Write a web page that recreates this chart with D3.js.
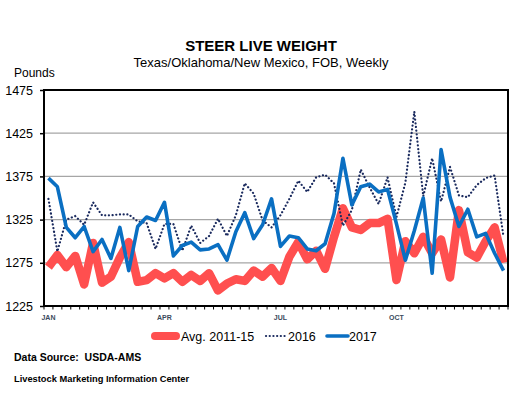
<!DOCTYPE html>
<html>
<head>
<meta charset="utf-8">
<script src="https://cdn.jsdelivr.net/npm/d3@7"></script>
<style>
  body { margin: 0; background: #fff; }
  svg { display: block; font-family: 'Liberation Sans', Arial, sans-serif; }
</style>
</head>
<body>
<div id="chart"></div>
<script>
// weekly values
const weeks = d3.range(52);
const avg1115 = [1270, 1284, 1270, 1283, 1250, 1298, 1252, 1259, 1281, 1299, 1253, 1255, 1263,
  1257, 1263, 1253, 1261, 1254, 1263, 1243, 1251, 1256, 1254, 1266, 1259, 1269,
  1254, 1282, 1299, 1279, 1289, 1268, 1305, 1338, 1316, 1313, 1321, 1321, 1326,
  1255, 1300, 1286, 1305, 1286, 1302, 1258, 1336, 1287, 1281, 1300, 1316, 1275];
const y2016 = [1349, 1288, 1325, 1329, 1319, 1345, 1330, 1330, 1331, 1331, 1323, 1321, 1291,
  1320, 1320, 1289, 1318, 1298, 1306, 1326, 1306, 1330, 1367, 1355, 1324, 1316,
  1330, 1349, 1370, 1357, 1374, 1377, 1367, 1318, 1336, 1383, 1362, 1343, 1374,
  1328, 1368, 1450, 1352, 1396, 1346, 1386, 1353, 1351, 1365, 1373, 1376, 1305];
const y2017 = [1373, 1363, 1316, 1304, 1317, 1288, 1302, 1280, 1316, 1266, 1317, 1328, 1324,
  1345, 1283, 1295, 1299, 1290, 1291, 1296, 1278, 1311, 1333, 1303, 1319, 1349,
  1294, 1306, 1304, 1291, 1289, 1297, 1332, 1396, 1342, 1363, 1366, 1357, 1360,
  1320, 1278, 1312, 1350, 1263, 1406, 1351, 1317, 1337, 1305, 1309, 1286, 1266];
const yTicks = [1225, 1275, 1325, 1375, 1425, 1475];
const monthLabels = ['JAN', 'APR', 'JUL', 'OCT'];
const monthWeeks = [0, 13, 26, 39];

const width = 531, height = 397;
const margin = { top: 90, right: 23, bottom: 91, left: 44 };

const svg = d3.select('#chart').append('svg').attr('width', width).attr('height', height);

const x = d3.scaleBand().domain(weeks).range([margin.left, width - margin.right]);
const y = d3.scaleLinear().domain([1225, 1475]).range([height - margin.bottom, margin.top]);
const cx = i => x(i) + x.bandwidth() / 2;

// titles
svg.append('text').attr('x', 261).attr('y', 51).attr('text-anchor', 'middle')
  .attr('font-size', 15).attr('font-weight', 'bold').text('STEER LIVE WEIGHT');
svg.append('text').attr('x', 261).attr('y', 67).attr('text-anchor', 'middle')
  .attr('font-size', 13).text('Texas/Oklahoma/New Mexico, FOB, Weekly');
svg.append('text').attr('x', 14).attr('y', 77).attr('font-size', 12).text('Pounds');

// grid lines
svg.append('g').selectAll('line').data(yTicks.slice(1, -1)).join('line')
  .attr('x1', margin.left).attr('x2', width - margin.right)
  .attr('y1', d => y(d)).attr('y2', d => y(d))
  .attr('stroke', '#a6a6a6').attr('stroke-width', 1.3);

// y axis
const yAxis = svg.append('g').attr('transform', `translate(${margin.left},0)`)
  .call(d3.axisLeft(y).tickValues(yTicks).tickSize(4).tickPadding(7).tickFormat(d3.format('d')));
yAxis.select('.domain').remove();
yAxis.selectAll('text').attr('font-size', 12.5).attr('fill', '#000').style('font-family', "'Liberation Sans', Arial, sans-serif");
yAxis.selectAll('line').attr('stroke', '#000').attr('stroke-width', 1.5);

// x axis: tick marks between weeks
const xEdges = weeks.map(i => x(i)).concat([width - margin.right]);
svg.append('g').selectAll('line').data(xEdges).join('line')
  .attr('x1', d => d).attr('x2', d => d)
  .attr('y1', y(1225)).attr('y2', y(1225) + 3.5)
  .attr('stroke', '#000').attr('stroke-width', 1);

svg.append('g').selectAll('text').data(monthLabels).join('text')
  .attr('x', (d, i) => cx(monthWeeks[i])).attr('y', 320)
  .attr('text-anchor', 'middle').attr('font-size', 7).attr('font-weight', 'bold')
  .attr('fill', '#3a4a5c').text(d => d);

// series
const line = data => d3.line().x((d, i) => cx(i)).y(d => y(d))(data);

svg.append('path').attr('d', line(avg1115)).attr('fill', 'none')
  .attr('stroke', '#ff4f4f').attr('stroke-width', 8.5).attr('stroke-linejoin', 'round');

svg.append('path').attr('d', line(y2016)).attr('fill', 'none')
  .attr('stroke', '#1a2a5e').attr('stroke-width', 2.2)
  .attr('stroke-linecap', 'round').attr('stroke-dasharray', '0.1 3.6');

svg.append('path').attr('d', line(y2017)).attr('fill', 'none')
  .attr('stroke', '#0a6fc2').attr('stroke-width', 3.6).attr('stroke-linejoin', 'round');

// frame
svg.append('rect').attr('x', margin.left).attr('y', margin.top)
  .attr('width', width - margin.left - margin.right).attr('height', height - margin.top - margin.bottom)
  .attr('fill', 'none').attr('stroke', '#000').attr('stroke-width', 2);

// legend
const legend = [
  { name: 'Avg. 2011-15', x: 155, tx: 181, color: '#ff4f4f', w: 8, dash: null },
  { name: '2016', x: 266, tx: 288, color: '#1a2a5e', w: 2.2, dash: '0.1 3.6' },
  { name: '2017', x: 327, tx: 349, color: '#0a6fc2', w: 3.6, dash: null }
];
const lg = svg.append('g').selectAll('g').data(legend).join('g');
lg.append('line').attr('x1', d => d.x).attr('x2', d => d.x + (d.dash ? 20 : 21))
  .attr('y1', 336).attr('y2', 336)
  .attr('stroke', d => d.color).attr('stroke-width', d => d.w)
  .attr('stroke-linecap', 'round').attr('stroke-dasharray', d => d.dash);
lg.append('text').attr('x', d => d.tx).attr('y', 341).attr('font-size', 12.5)
  .text(d => d.name);

// source
svg.append('text').attr('x', 14).attr('y', 361).attr('font-size', 10.5).attr('font-weight', 'bold')
  .attr('xml:space', 'preserve').text('Data Source:  USDA-AMS');
svg.append('text').attr('x', 14).attr('y', 382).attr('font-size', 9.3).attr('font-weight', 'bold')
  .text('Livestock Marketing Information Center');
</script>
</body>
</html>
